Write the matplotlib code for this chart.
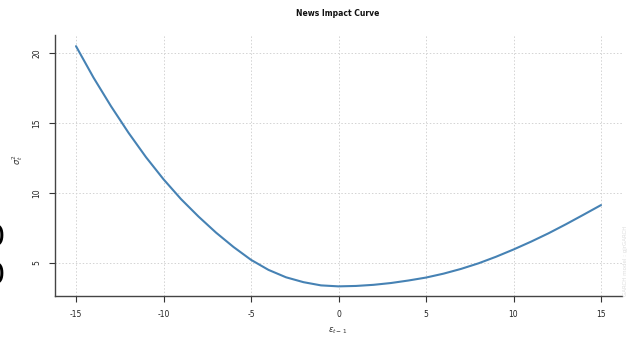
import matplotlib
matplotlib.use("Agg")
import matplotlib.pyplot as plt

# data
eps = [-15, -14, -13, -12, -11, -10, -9, -8, -7, -6, -5, -4, -3, -2, -1,
       0, 1, 2, 3, 4, 5, 6, 7, 8, 9, 10, 11, 12, 13, 14, 15]
sigma2 = [20.5, 18.25, 16.2, 14.3, 12.55, 10.97, 9.55, 8.3, 7.15, 6.12, 5.2, 4.48, 3.95, 3.6, 3.37,
          3.3, 3.33, 3.41, 3.54, 3.72, 3.93, 4.21, 4.55, 4.95, 5.42, 5.94, 6.5, 7.1, 7.75, 8.43, 9.12]
xticks = [-15, -10, -5, 0, 5, 10, 15]
yticks = [5, 10, 15, 20]

W, H = 631, 338
fig = plt.figure(figsize=(W / 100, H / 100), dpi=100)
ax = fig.add_axes([55 / W, 42 / H, (622 - 55) / W, (296 - 35) / H])

ax.plot(eps, sigma2, color="#4682B4", lw=1.5, solid_capstyle="round", solid_joinstyle="round")
ax.set_xlim(-16.2, 16.2)
ax.set_ylim(2.61, 21.3)
ax.set_xticks(xticks)
ax.set_yticks(yticks)
ax.set_xticklabels([str(v) for v in xticks])
ax.set_yticklabels([str(v) for v in yticks], rotation=90, va="center")
ax.grid(True, color="#d3d3d3", linestyle=(0, (1.5, 2)), linewidth=0.7)
ax.set_axisbelow(True)
for s in ["top", "right"]:
    ax.spines[s].set_visible(False)
for s in ["left", "bottom"]:
    ax.spines[s].set_color("#444444")
    ax.spines[s].set_linewidth(1.0)
ax.tick_params(axis="both", length=4, width=0.8, color="#333333",
               labelsize=5.5, labelcolor="#222222", pad=6)

fig.text(338 / W, 1 - 14 / H, "News Impact Curve", fontsize=5.5, fontweight="bold",
         ha="center", va="center", color="#111111")

ax.set_xlabel(r"$\epsilon_{t-1}$", fontsize=6, color="#333333", va="center")
ax.xaxis.set_label_coords(338 / W, 1 - 331 / H, transform=fig.transFigure)
ax.set_ylabel(r"$\sigma_t^2$", fontsize=6, color="#333333", va="center")
ax.yaxis.set_label_coords(18 / W, 1 - 160 / H, transform=fig.transFigure)

fig.text(626 / W, 1 - 296 / H, "GARCH model : gjrGARCH", rotation=90,
         fontsize=4, color="#dddddd", ha="center", va="bottom")

fig.text(5 / W, 1 - 238 / H, "0", fontsize=22, ha="right", va="center", color="black")
fig.text(5 / W, 1 - 275 / H, "0", fontsize=22, ha="right", va="center", color="black")

fig.savefig("out.png", dpi=100)
